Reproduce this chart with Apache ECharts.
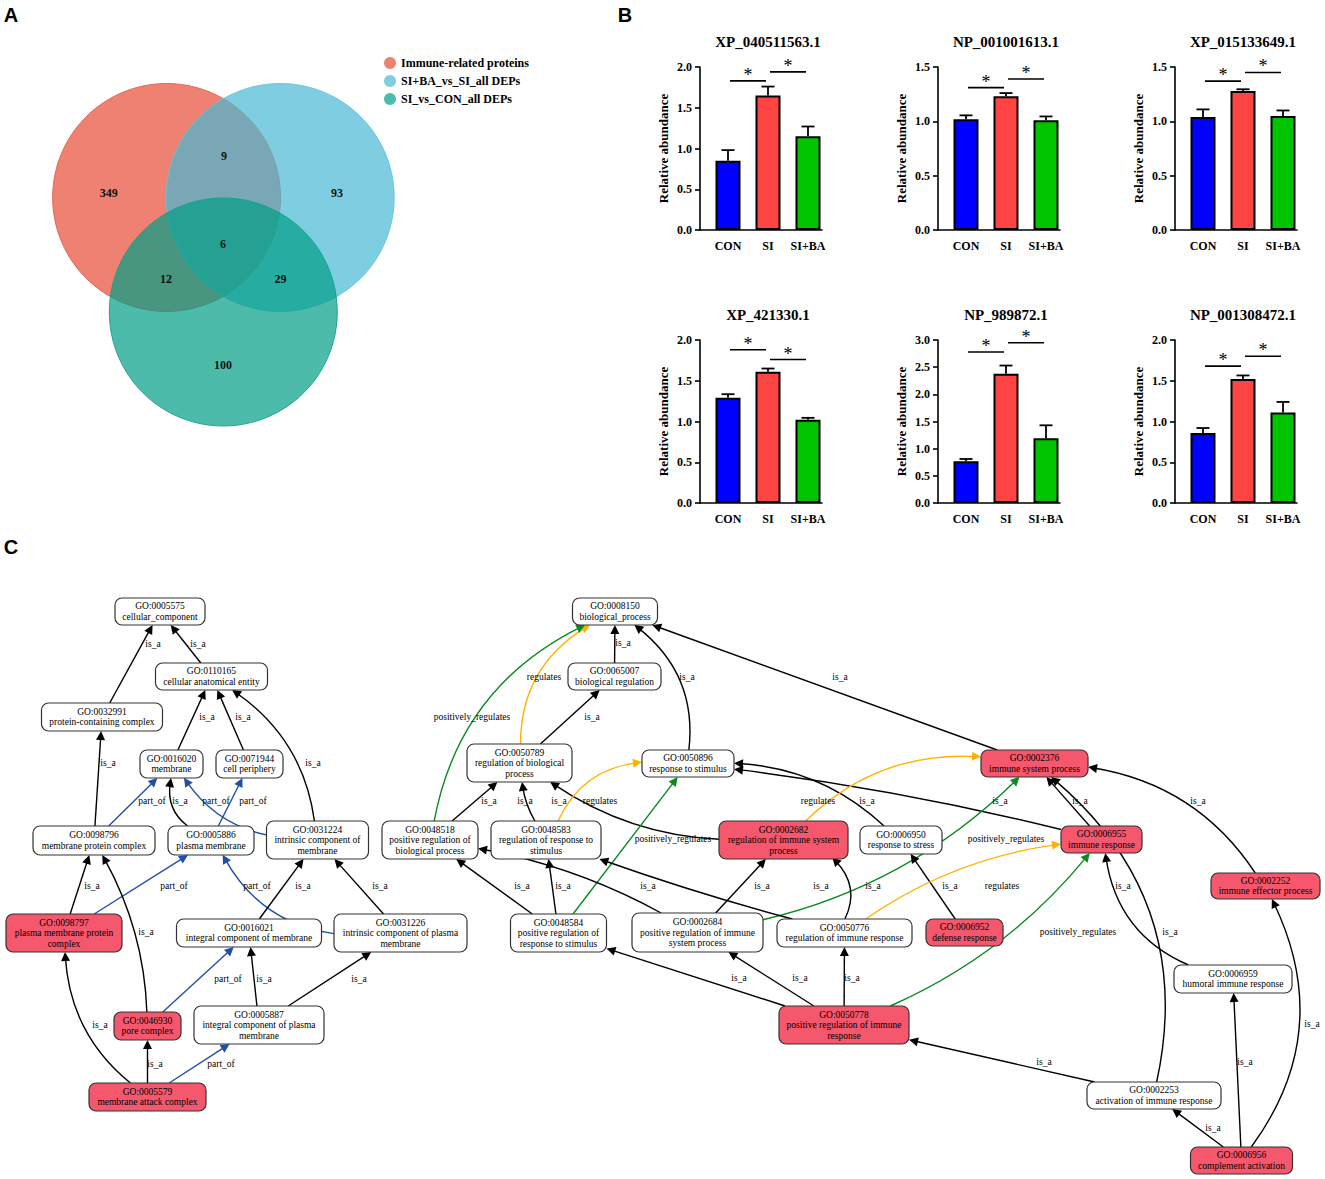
<!DOCTYPE html>
<html><head><meta charset="utf-8">
<script src="https://cdn.jsdelivr.net/npm/echarts@6/dist/echarts.min.js"></script>
<style>html,body{margin:0;padding:0;background:#fff}#c{width:1325px;height:1179px}</style>
</head><body><div id="c"></div>
<script>
// ================= DATA =================
// Panel A: Venn
const vennSets = ['Immune-related proteins', 'SI+BA_vs_SI_all DEPs', 'SI_vs_CON_all DEPs'];
const vennRegions = ['Immune only', 'Immune & SI+BA', 'SI+BA only', 'all three', 'Immune & SI', 'SI+BA & SI', 'SI only'];
const vennCounts = [349, 9, 93, 6, 12, 29, 100];

// Panel B: bar charts
const groups = ['CON', 'SI', 'SI+BA'];
const proteins = ['XP_040511563.1', 'NP_001001613.1', 'XP_015133649.1', 'XP_421330.1', 'NP_989872.1', 'NP_001308472.1'];
const meanValues = [
  [0.85, 1.65, 1.15],
  [1.02, 1.23, 1.01],
  [1.04, 1.28, 1.05],
  [1.29, 1.61, 1.02],
  [0.77, 2.38, 1.19],
  [0.86, 1.52, 1.11]
];
const errValues = [
  [0.13, 0.11, 0.12],
  [0.035, 0.03, 0.035],
  [0.07, 0.015, 0.05],
  [0.045, 0.04, 0.025],
  [0.04, 0.15, 0.24],
  [0.06, 0.045, 0.13]
];
const yAxisMax = [2.0, 1.5, 1.5, 2.0, 3.0, 2.0];
const yTickStep = 0.5;
const sigPairs = [[0, 1], [1, 2]];
const sigHeights = [
  [1.83, 1.94],
  [1.31, 1.39],
  [1.37, 1.45],
  [1.88, 1.76],
  [2.78, 2.95],
  [1.68, 1.80]
];

// Panel C: GO graph
const goTerms = [
  ['GO:0005575', 'cellular_component', 0],
  ['GO:0110165', 'cellular anatomical entity', 0],
  ['GO:0032991', 'protein-containing complex', 0],
  ['GO:0016020', 'membrane', 0],
  ['GO:0071944', 'cell periphery', 0],
  ['GO:0098796', 'membrane protein complex', 0],
  ['GO:0005886', 'plasma membrane', 0],
  ['GO:0031224', 'intrinsic component of\nmembrane', 0],
  ['GO:0098797', 'plasma membrane protein\ncomplex', 1],
  ['GO:0016021', 'integral component of membrane', 0],
  ['GO:0031226', 'intrinsic component of plasma\nmembrane', 0],
  ['GO:0046930', 'pore complex', 1],
  ['GO:0005887', 'integral component of plasma\nmembrane', 0],
  ['GO:0005579', 'membrane attack complex', 1],
  ['GO:0008150', 'biological_process', 0],
  ['GO:0065007', 'biological regulation', 0],
  ['GO:0050789', 'regulation of biological\nprocess', 0],
  ['GO:0050896', 'response to stimulus', 0],
  ['GO:0002376', 'immune system process', 1],
  ['GO:0048518', 'positive regulation of\nbiological process', 0],
  ['GO:0048583', 'regulation of response to\nstimulus', 0],
  ['GO:0002682', 'regulation of immune system\nprocess', 1],
  ['GO:0006950', 'response to stress', 0],
  ['GO:0006955', 'immune response', 1],
  ['GO:0002252', 'immune effector process', 1],
  ['GO:0048584', 'positive regulation of\nresponse to stimulus', 0],
  ['GO:0002684', 'positive regulation of immune\nsystem process', 0],
  ['GO:0050776', 'regulation of immune response', 0],
  ['GO:0006952', 'defense response', 1],
  ['GO:0006959', 'humoral immune response', 0],
  ['GO:0050778', 'positive regulation of immune\nresponse', 1],
  ['GO:0002253', 'activation of immune response', 0],
  ['GO:0006956', 'complement activation', 1]
];
const goRelations = [
  ['GO:0032991', 'GO:0005575', 'is_a'],
  ['GO:0110165', 'GO:0005575', 'is_a'],
  ['GO:0016020', 'GO:0110165', 'is_a'],
  ['GO:0071944', 'GO:0110165', 'is_a'],
  ['GO:0031224', 'GO:0110165', 'is_a'],
  ['GO:0098796', 'GO:0032991', 'is_a'],
  ['GO:0098796', 'GO:0016020', 'part_of'],
  ['GO:0005886', 'GO:0016020', 'is_a'],
  ['GO:0031224', 'GO:0016020', 'part_of'],
  ['GO:0005886', 'GO:0071944', 'part_of'],
  ['GO:0098797', 'GO:0098796', 'is_a'],
  ['GO:0098797', 'GO:0005886', 'part_of'],
  ['GO:0046930', 'GO:0098796', 'is_a'],
  ['GO:0031226', 'GO:0005886', 'part_of'],
  ['GO:0016021', 'GO:0031224', 'is_a'],
  ['GO:0031226', 'GO:0031224', 'is_a'],
  ['GO:0046930', 'GO:0016021', 'part_of'],
  ['GO:0005887', 'GO:0016021', 'is_a'],
  ['GO:0005887', 'GO:0031226', 'is_a'],
  ['GO:0005579', 'GO:0098797', 'is_a'],
  ['GO:0005579', 'GO:0046930', 'is_a'],
  ['GO:0005579', 'GO:0005887', 'part_of'],
  ['GO:0065007', 'GO:0008150', 'is_a'],
  ['GO:0050896', 'GO:0008150', 'is_a'],
  ['GO:0002376', 'GO:0008150', 'is_a'],
  ['GO:0050789', 'GO:0008150', 'regulates'],
  ['GO:0048518', 'GO:0008150', 'positively_regulates'],
  ['GO:0050789', 'GO:0065007', 'is_a'],
  ['GO:0048518', 'GO:0050789', 'is_a'],
  ['GO:0048583', 'GO:0050789', 'is_a'],
  ['GO:0002682', 'GO:0050789', 'is_a'],
  ['GO:0048583', 'GO:0050896', 'regulates'],
  ['GO:0048584', 'GO:0050896', 'positively_regulates'],
  ['GO:0006950', 'GO:0050896', 'is_a'],
  ['GO:0006955', 'GO:0050896', 'is_a'],
  ['GO:0002682', 'GO:0002376', 'regulates'],
  ['GO:0002684', 'GO:0002376', 'positively_regulates'],
  ['GO:0006955', 'GO:0002376', 'is_a'],
  ['GO:0002253', 'GO:0002376', 'is_a'],
  ['GO:0002252', 'GO:0002376', 'is_a'],
  ['GO:0048584', 'GO:0048518', 'is_a'],
  ['GO:0048584', 'GO:0048583', 'is_a'],
  ['GO:0002684', 'GO:0048518', 'is_a'],
  ['GO:0002684', 'GO:0002682', 'is_a'],
  ['GO:0050776', 'GO:0048583', 'is_a'],
  ['GO:0050776', 'GO:0002682', 'is_a'],
  ['GO:0006952', 'GO:0006950', 'is_a'],
  ['GO:0050776', 'GO:0006955', 'regulates'],
  ['GO:0050778', 'GO:0006955', 'positively_regulates'],
  ['GO:0006959', 'GO:0006955', 'is_a'],
  ['GO:0050778', 'GO:0048584', 'is_a'],
  ['GO:0050778', 'GO:0002684', 'is_a'],
  ['GO:0050778', 'GO:0050776', 'is_a'],
  ['GO:0002253', 'GO:0050778', 'is_a'],
  ['GO:0006956', 'GO:0002253', 'is_a'],
  ['GO:0006956', 'GO:0006959', 'is_a'],
  ['GO:0006956', 'GO:0002252', 'is_a']
];

// ================= LAYOUT / STYLE =================
const SERIF = 'Liberation Serif';
const vennColors = ['rgba(231,76,54,0.7)', 'rgba(72,184,211,0.7)', 'rgba(1,158,134,0.7)'];
const vennStroke = ['rgba(225,95,80,0.9)', 'rgba(100,195,220,0.9)', 'rgba(20,160,140,0.9)'];
const vennCircleLayout = [[166.6, 197.5, 114], [280.2, 197.5, 114], [223.3, 312, 114]];
const vennLabelLayout = [[108.7, 193], [224, 156], [337, 193], [223, 244], [166, 279], [280.6, 279], [223, 365]];
const panelLetters = [['A', 11, 15], ['B', 625, 15], ['C', 11, 547]];

const groupColors = ['#0000FF', '#FF4444', '#00C400'];
const barColLeft = [700, 938, 1175];
const barRowTop = [67, 340];
const barGridW = 122, barGridH = 163;
const BAR_OFFSET = 0.7, X_MAX = 3.05;

// node layout: [cx, cy, w, h]
const goLayout = {
  'GO:0005575': [160, 611.5, 90, 27], 'GO:0110165': [211.5, 676.5, 112, 27],
  'GO:0032991': [102, 717, 121, 28], 'GO:0016020': [171.5, 764, 63, 28],
  'GO:0071944': [249.5, 764, 67, 28], 'GO:0098796': [94, 840.5, 122, 29],
  'GO:0005886': [211, 840.5, 86, 29], 'GO:0031224': [317.5, 840, 102, 38],
  'GO:0098797': [64, 933, 116, 38], 'GO:0016021': [249, 933, 145, 28],
  'GO:0031226': [400.5, 933, 133, 38], 'GO:0046930': [147.5, 1026, 67, 28],
  'GO:0005887': [259, 1025, 130, 38], 'GO:0005579': [147.5, 1097, 117, 28],
  'GO:0008150': [615, 611.5, 85, 27], 'GO:0065007': [614.5, 676.5, 93, 27],
  'GO:0050789': [519.5, 763, 105, 38], 'GO:0050896': [688, 763.5, 92, 27],
  'GO:0002376': [1034.5, 763.5, 107, 27], 'GO:0048518': [430, 840, 96, 38],
  'GO:0048583': [546, 840, 110, 38], 'GO:0002682': [783.5, 840, 129, 38],
  'GO:0006950': [901, 840, 82, 28], 'GO:0006955': [1101.5, 839.5, 81, 27],
  'GO:0002252': [1265.5, 886, 109, 26], 'GO:0048584': [558.5, 933, 96, 38],
  'GO:0002684': [697.5, 932.5, 131, 39], 'GO:0050776': [844.5, 933, 135, 28],
  'GO:0006952': [964.5, 932.5, 77, 27], 'GO:0006959': [1233, 979, 118, 28],
  'GO:0050778': [844, 1025, 130, 38], 'GO:0002253': [1154, 1095.5, 134, 27],
  'GO:0006956': [1241.5, 1160.5, 102, 27]
};
// edge layout: [curveness, labelX, labelY]
const goEdgeLayout = [
  [0, 153, 644], [0, 198, 644], [0, 207, 717], [0, 243, 717], [-0.22, 313, 763],
  [0, 108, 763], [0, 152, 801], [0.3, 180, 801], [0.2, 216, 801], [0, 253, 801],
  [0, 92, 886], [0, 174, 886], [-0.12, 146, 932], [0.25, 257, 886], [0, 303, 886],
  [0, 380, 886], [0, 228, 979], [0, 264, 979], [0, 359, 979], [0.22, 100, 1025],
  [0, 155, 1064], [0, 221, 1064],
  [0, 623, 643], [-0.28, 687, 677], [0, 840, 677], [0.28, 544, 677], [0.25, 472, 717],
  [0, 592, 717], [0, 489, 801], [0.1, 525, 801], [0.14, 559, 801], [0.28, 600, 801],
  [0, 673, 839], [-0.18, 867, 801], [-0.03, 1000, 801], [0.22, 818, 801], [-0.14, 1006, 839],
  [0, 1080, 801], [-0.3, 1170, 932], [-0.22, 1198, 801], [0, 522, 886], [0, 563, 886],
  [-0.08, 648, 886], [0, 762, 886], [0.02, 821, 886], [-0.35, 873, 886], [0, 950, 886],
  [0.12, 1002, 886], [-0.12, 1078, 932], [0.28, 1123, 886], [0, 739, 978], [0, 800, 978],
  [0, 852, 978], [0, 1044, 1062], [0, 1213, 1128], [0, 1245, 1062], [-0.3, 1312, 1024]
];
const relColors = { is_a: '#000000', part_of: '#1F4FA8', regulates: '#FFB300', positively_regulates: '#0A8A22' };

// ================= BUILD =================
const chart = echarts.init(document.getElementById('c'), null, { renderer: 'svg', width: 1325, height: 1179 });

const grids = [{ left: 0, top: 0, width: 1325, height: 1179 }];
const xAxes = [{ type: 'value', gridIndex: 0, min: 0, max: 1325, show: false }];
const yAxes = [{ type: 'value', gridIndex: 0, min: 0, max: 1179, inverse: true, show: false }];
const series = [];

function textSeries(items, family, size, weight, color, z) {
  return {
    type: 'custom', coordinateSystem: 'cartesian2d', xAxisIndex: 0, yAxisIndex: 0, silent: true, z: z || 20,
    data: items.map(it => [it[0], it[1]]),
    renderItem: (params, api) => {
      const it = items[params.dataIndex];
      const c = api.coord([it[0], it[1]]);
      return { type: 'text', style: { text: String(it[2]), x: c[0], y: c[1], align: 'center', verticalAlign: 'middle',
        fontFamily: family, fontSize: size, fontWeight: weight, fill: color } };
    }
  };
}

// Panel letters
series.push(textSeries(panelLetters.map(p => [p[1], p[2], p[0]]), 'Liberation Sans', 20, 'bold', '#000', 30));

// Venn circles
vennSets.forEach((name, i) => {
  const L = vennCircleLayout[i];
  series.push({
    type: 'custom', name: name, coordinateSystem: 'cartesian2d', xAxisIndex: 0, yAxisIndex: 0, silent: true, z: 2 + i,
    itemStyle: { color: vennColors[i] },
    data: [[L[0], L[1], L[2]]],
    renderItem: (params, api) => {
      const c = api.coord([api.value(0), api.value(1)]);
      const r = api.size([api.value(2), api.value(2)])[0];
      return { type: 'circle', shape: { cx: c[0], cy: c[1], r: r }, style: { fill: vennColors[i], stroke: vennStroke[i], lineWidth: 1 } };
    }
  });
});
series.push(textSeries(vennCounts.map((v, i) => [vennLabelLayout[i][0], vennLabelLayout[i][1], v]), SERIF, 12, 'bold', '#111', 10));

// Panel B
proteins.forEach((p, k) => {
  const gi = k + 1;
  const col = k % 3, row = Math.floor(k / 3);
  grids.push({ left: barColLeft[col], top: barRowTop[row], width: barGridW, height: barGridH });
  xAxes.push({
    type: 'value', gridIndex: gi, min: 0, max: X_MAX,
    axisLine: { show: true, onZero: false, lineStyle: { color: '#000', width: 1.6 } },
    axisTick: { show: false }, splitLine: { show: false },
    axisLabel: {
      customValues: groups.map((g, j) => j + BAR_OFFSET),
      formatter: v => groups[Math.round(v - BAR_OFFSET)] || '',
      fontFamily: SERIF, fontWeight: 'bold', fontSize: 12, color: '#000', margin: 10
    }
  });
  yAxes.push({
    type: 'value', gridIndex: gi, min: 0, max: yAxisMax[k], interval: yTickStep,
    name: 'Relative abundance', nameLocation: 'middle', nameGap: 30,
    nameTextStyle: { fontFamily: SERIF, fontWeight: 'bold', fontSize: 13, color: '#000' },
    axisLine: { show: true, lineStyle: { color: '#000', width: 1.6 } },
    axisTick: { show: true, length: 5, lineStyle: { color: '#000', width: 1.6 } },
    splitLine: { show: false },
    axisLabel: { formatter: v => v.toFixed(1), fontFamily: SERIF, fontWeight: 'bold', fontSize: 12, color: '#000', margin: 8 }
  });
  series.push({
    type: 'bar', xAxisIndex: gi, yAxisIndex: gi, barWidth: 25, silent: true, z: 2,
    data: groups.map((g, j) => ({ value: [j + BAR_OFFSET, meanValues[k][j]], itemStyle: { color: groupColors[j], borderColor: '#000', borderWidth: 2 } }))
  });
  series.push({
    type: 'custom', xAxisIndex: gi, yAxisIndex: gi, silent: true, z: 3,
    data: groups.map((g, j) => [j + BAR_OFFSET, meanValues[k][j], errValues[k][j]]),
    renderItem: (params, api) => {
      const x = api.value(0), m = api.value(1), e = api.value(2);
      const b = api.coord([x, m]), t = api.coord([x, m + e]);
      return { type: 'group', children: [
        { type: 'line', shape: { x1: b[0], y1: b[1], x2: t[0], y2: t[1] }, style: { stroke: '#000', lineWidth: 1.8 } },
        { type: 'line', shape: { x1: t[0] - 6.5, y1: t[1], x2: t[0] + 6.5, y2: t[1] }, style: { stroke: '#000', lineWidth: 1.8 } }
      ] };
    }
  });
  series.push({
    type: 'custom', xAxisIndex: gi, yAxisIndex: gi, silent: true, z: 4,
    data: sigPairs.map((pr, s) => [pr[0] + BAR_OFFSET, pr[1] + BAR_OFFSET, sigHeights[k][s]]),
    renderItem: (params, api) => {
      const a = api.coord([api.value(0), api.value(2)]), b = api.coord([api.value(1), api.value(2)]);
      return { type: 'group', children: [
        { type: 'line', shape: { x1: a[0] + 2, y1: a[1], x2: b[0] - 2, y2: b[1] }, style: { stroke: '#000', lineWidth: 1.6 } },
        { type: 'text', style: { text: '*', x: (a[0] + b[0]) / 2, y: a[1] + 3, align: 'center', verticalAlign: 'bottom',
          fontFamily: SERIF, fontSize: 18, fontWeight: 'normal', fill: '#000' } }
      ] };
    }
  });
  // chart title centred above the middle group
  series.push({
    type: 'custom', xAxisIndex: gi, yAxisIndex: gi, silent: true, z: 4,
    data: [[1 + BAR_OFFSET, yAxisMax[k]]],
    renderItem: (params, api) => {
      const c = api.coord([api.value(0), api.value(1)]);
      return { type: 'text', style: { text: p, x: c[0], y: c[1] - 25, align: 'center', verticalAlign: 'middle',
        fontFamily: SERIF, fontSize: 15, fontWeight: 'bold', fill: '#000' } };
    }
  });
});

// Panel C edges
function clipBox(b, dx, dy) {
  const hw = b[2] / 2, hh = b[3] / 2;
  const tx = Math.abs(dx) < 1e-9 ? Infinity : hw / Math.abs(dx);
  const ty = Math.abs(dy) < 1e-9 ? Infinity : hh / Math.abs(dy);
  const t = Math.min(tx, ty);
  return [b[0] + dx * t, b[1] + dy * t];
}
const edgeData = goRelations.map((r, i) => {
  const s = goLayout[r[0]], t = goLayout[r[1]];
  const c = goEdgeLayout[i][0];
  const cp = [(s[0] + t[0]) / 2 + (t[1] - s[1]) * c, (s[1] + t[1]) / 2 + (s[0] - t[0]) * c];
  const p1 = clipBox(s, cp[0] - s[0], cp[1] - s[1]);
  let p2 = clipBox(t, cp[0] - t[0], cp[1] - t[1]);
  const dx = cp[0] - p2[0], dy = cp[1] - p2[1], len = Math.hypot(dx, dy) || 1;
  p2 = [p2[0] + dx / len * 4.5, p2[1] + dy / len * 4.5];
  return { coords: [p1, p2], lineStyle: { color: relColors[r[2]], curveness: c, width: 1.4, opacity: 1 } };
});
series.push({
  type: 'lines', coordinateSystem: 'cartesian2d', xAxisIndex: 0, yAxisIndex: 0, silent: true, z: 5,
  symbol: ['none', 'triangle'], symbolSize: 9,
  data: edgeData
});
series.push(textSeries(goRelations.map((r, i) => [goEdgeLayout[i][1], goEdgeLayout[i][2], r[2]]), SERIF, 9.5, 'normal', '#000', 6));

// Panel C nodes
series.push({
  type: 'custom', coordinateSystem: 'cartesian2d', xAxisIndex: 0, yAxisIndex: 0, silent: true, z: 8,
  data: goTerms.map(t => [goLayout[t[0]][0], goLayout[t[0]][1]]),
  renderItem: (params, api) => {
    const term = goTerms[params.dataIndex];
    const L = goLayout[term[0]];
    const c = api.coord([L[0], L[1]]);
    const s = api.size([L[2], L[3]]);
    return { type: 'group', children: [
      { type: 'rect', shape: { x: c[0] - s[0] / 2, y: c[1] - s[1] / 2, width: s[0], height: s[1], r: 7 },
        style: { fill: term[2] ? '#F5576C' : '#FFFFFF', stroke: '#333', lineWidth: 1.2 } },
      { type: 'text', style: { text: term[0] + '\n' + term[1], x: c[0], y: c[1], align: 'center', verticalAlign: 'middle',
        fontFamily: SERIF, fontSize: 9.5, lineHeight: 10.5, fill: '#000' } }
    ] };
  }
});

chart.setOption({
  animation: false,
  backgroundColor: '#fff',
  textStyle: { fontFamily: SERIF },
  legend: {
    data: vennSets, orient: 'vertical', left: 384, top: 57, padding: 0,
    itemWidth: 12, itemHeight: 12, itemGap: 6, icon: 'circle', itemTextGap: 4,
    selectedMode: false,
    textStyle: { fontFamily: SERIF, fontWeight: 'bold', fontSize: 12, color: '#000' }
  },
  grid: grids, xAxis: xAxes, yAxis: yAxes, series: series
});
</script>
</body></html>
